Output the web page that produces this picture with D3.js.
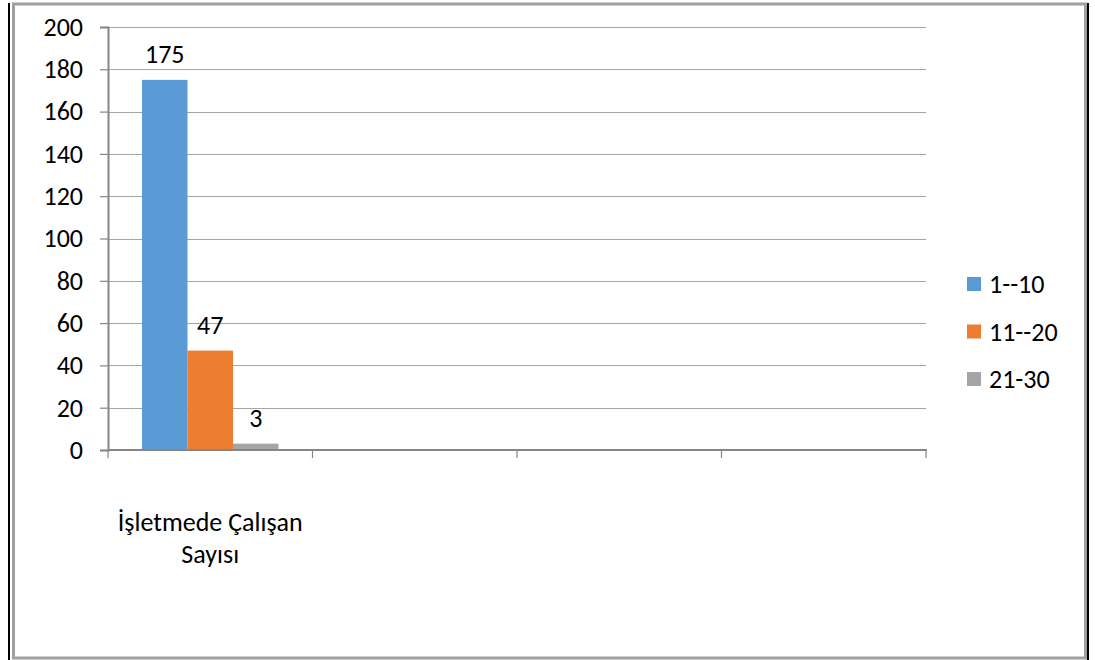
<!DOCTYPE html>
<html>
<head>
<meta charset="utf-8">
<script src="https://cdn.jsdelivr.net/npm/d3@7"></script>
<style>
  body { margin: 0; background: #fff; }
  text { font-family: Carlito, Lato, "Open Sans", sans-serif; fill: #000; }
</style>
</head>
<body>
<div id="chart"></div>
<script>
// data
const categories = ["İşletmede Çalışan Sayısı", "", "", ""];
const seriesNames = ["1--10", "11--20", "21-30"];
const seriesValues = [
  [175, null, null, null],
  [47, null, null, null],
  [3, null, null, null]
];
const yTicks = [0, 20, 40, 60, 80, 100, 120, 140, 160, 180, 200];
const colors = ["#5b9bd5", "#ed7d31", "#a5a5a5"];

const W = 1095, H = 660;
const plot = { left: 108, right: 926, top: 27, bottom: 450 };
const FS = "26px";

const svg = d3.select("#chart").append("svg")
  .attr("width", W)
  .attr("height", H);

// frame
svg.append("rect")
  .attr("x", 13.5).attr("y", 4)
  .attr("width", 1072).attr("height", 654)
  .attr("fill", "#fff")
  .attr("stroke", "#a0a0a0")
  .attr("stroke-width", 3);
svg.append("line").attr("x1", 9).attr("x2", 9).attr("y1", 3).attr("y2", 660)
  .attr("stroke", "#000").attr("stroke-width", 2);
svg.append("line").attr("x1", 1088).attr("x2", 1088).attr("y1", 3).attr("y2", 660)
  .attr("stroke", "#000").attr("stroke-width", 2);

const y = d3.scaleLinear().domain([0, 200]).range([plot.bottom, plot.top]);
const x0 = d3.scaleBand().domain(d3.range(categories.length))
  .range([plot.left, plot.right]);
const inner = 34 / x0.bandwidth(); // gap at both sides of a group
const x1 = d3.scaleBand().domain(d3.range(seriesNames.length))
  .range([x0.bandwidth() * inner, x0.bandwidth() * (1 - inner)]);

// gridlines
svg.append("g")
  .selectAll("line")
  .data(yTicks.filter(d => d > 0))
  .enter().append("line")
  .attr("x1", plot.left).attr("x2", plot.right)
  .attr("y1", d => Math.round(y(d)) + 0.5).attr("y2", d => Math.round(y(d)) + 0.5)
  .attr("stroke", "#a6a6a6")
  .attr("stroke-width", 1.2);

// y axis
const yAxis = svg.append("g")
  .attr("transform", `translate(${plot.left},0)`)
  .call(d3.axisLeft(y).tickValues(yTicks).tickSize(8).tickPadding(17));
yAxis.select(".domain").attr("stroke", "#868686").attr("stroke-width", 2);
yAxis.selectAll(".tick line").attr("stroke", "#868686").attr("stroke-width", 1.2);
yAxis.selectAll("text").style("font-size", FS).attr("fill", "#000")
  .style("font-family", "Carlito, Lato, 'Open Sans', sans-serif");

// bars
const groups = svg.append("g")
  .selectAll("g")
  .data(categories.map((c, i) => i))
  .enter().append("g")
  .attr("transform", i => `translate(${x0(i)},0)`);

groups.selectAll("rect")
  .data(i => seriesValues.map((vals, s) => ({ s: s, v: vals[i] })).filter(d => d.v != null))
  .enter().append("rect")
  .attr("x", d => x1(d.s))
  .attr("width", x1.bandwidth())
  .attr("y", d => y(d.v))
  .attr("height", d => y(0) - y(d.v))
  .attr("fill", d => colors[d.s]);

groups.selectAll("text.lbl")
  .data(i => seriesValues.map((vals, s) => ({ s: s, v: vals[i] })).filter(d => d.v != null))
  .enter().append("text")
  .attr("class", "lbl")
  .attr("x", d => x1(d.s) + x1.bandwidth() / 2)
  .attr("y", d => y(d.v) - 17)
  .attr("text-anchor", "middle")
  .style("font-size", FS)
  .text(d => d.v);

// x axis
const xAxis = svg.append("g");
xAxis.append("line")
  .attr("x1", plot.left).attr("x2", plot.right + 1)
  .attr("y1", plot.bottom).attr("y2", plot.bottom)
  .attr("stroke", "#868686").attr("stroke-width", 2);
xAxis.selectAll("line.tk")
  .data(d3.range(categories.length + 1))
  .enter().append("line")
  .attr("class", "tk")
  .attr("x1", i => i < categories.length ? x0(i) : plot.right)
  .attr("x2", i => i < categories.length ? x0(i) : plot.right)
  .attr("y1", plot.bottom).attr("y2", plot.bottom + 8)
  .attr("stroke", "#868686").attr("stroke-width", 1.2);

// category labels (wrapped in two lines)
const catLines = [["İşletmede Çalışan", "Sayısı"], [], [], []];
groups.append("text")
  .attr("text-anchor", "middle")
  .style("font-size", FS)
  .selectAll("tspan")
  .data(i => catLines[i])
  .enter().append("tspan")
  .attr("x", x0.bandwidth() / 2)
  .attr("y", (d, j) => 531 + j * 32)
  .text(d => d);

// legend
const legend = svg.append("g").attr("transform", "translate(967,0)");
const item = legend.selectAll("g")
  .data(seriesNames)
  .enter().append("g")
  .attr("transform", (d, i) => `translate(0,${284 + i * 47.5})`);
item.append("rect")
  .attr("x", 0).attr("y", -7)
  .attr("width", 14).attr("height", 14)
  .attr("fill", (d, i) => colors[i]);
item.append("text")
  .attr("x", 22).attr("y", 9)
  .style("font-size", FS)
  .text(d => d);
</script>
</body>
</html>
